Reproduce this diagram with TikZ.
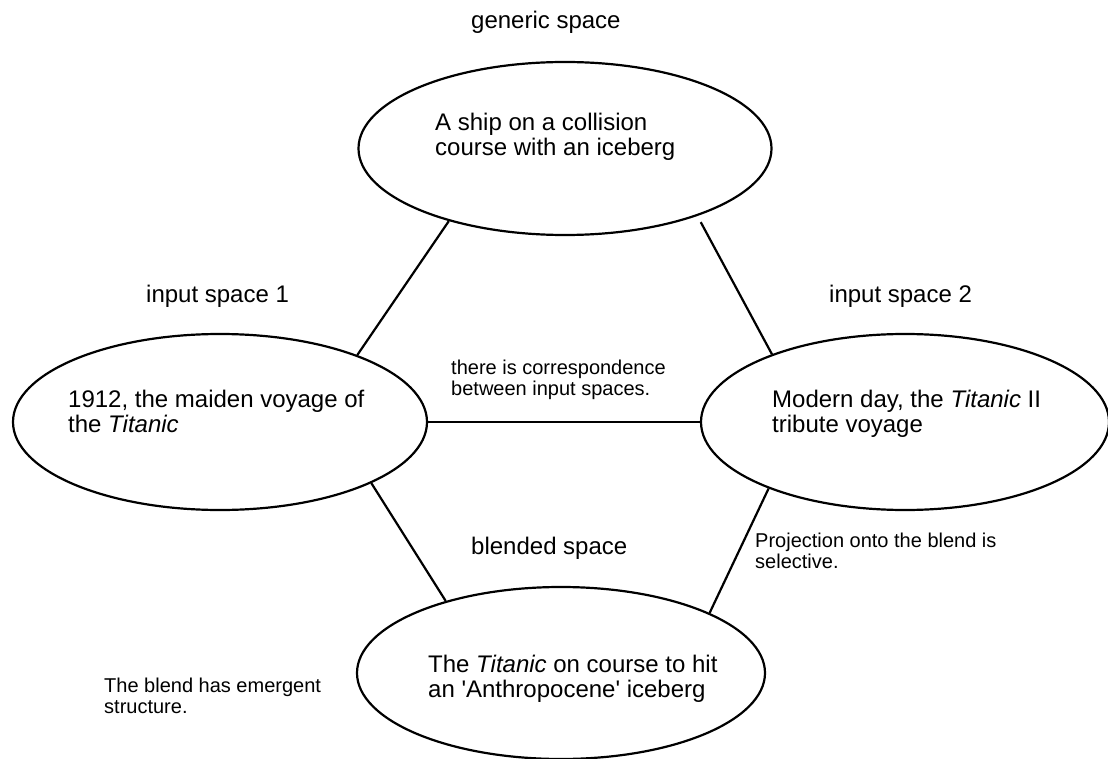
\documentclass[tikz,border=0pt]{standalone}
\usepackage{fontspec}
\setmainfont{Liberation Sans}
\usetikzlibrary{shapes.geometric}
\begin{document}
\begin{tikzpicture}[x=1pt,y=-1pt,
  space/.style={draw, ellipse, line width=2.2pt, inner sep=0pt},
  big/.style={font=\fontsize{24}{25}\selectfont, inner sep=0pt, align=left},
  small/.style={font=\fontsize{20}{21}\selectfont, inner sep=0pt, align=left},
  link/.style={line width=2.2pt}]
\fill[white] (0,0) rectangle (1108,759);
\useasboundingbox (0,0) rectangle (1108,759);
% spaces
\node[space, minimum width=413pt, minimum height=173pt] (gen) at (565,148.5) {};
\node[space, minimum width=414pt, minimum height=176pt] (in1) at (220,422) {};
\node[space, minimum width=408pt, minimum height=176pt] (in2) at (905,422) {};
\node[space, minimum width=408pt, minimum height=172pt] (bl) at (561,673) {};
% titles
\node[big, anchor=base west] (tgen) at (471,29) {generic space};
\node[big, anchor=base west] (tin1) at (146,302) {input space 1};
\node[big, anchor=base west] (tin2) at (829,302) {input space 2};
\node[big, anchor=base west] (tbl) at (471,554) {blended space};
% contents
\node[big, anchor=north west] (cgen) at (435,112.8) {A ship on a collision\\course with an iceberg};
\node[big, anchor=north west] (cin1) at (68,389.8) {1912, the maiden voyage of\\the \textit{Titanic}};
\node[big, anchor=north west] (cin2) at (772,389.8) {Modern day, the \textit{Titanic} II\\tribute voyage};
\node[big, anchor=north west] (cbl) at (428,654.8) {The \textit{Titanic} on course to hit\\an \textquotesingle Anthropocene\textquotesingle{} iceberg};
% notes
\node[small, anchor=north west] (ncorr) at (451,359.7) {there is correspondence\\between input spaces.};
\node[small, anchor=north west] (nproj) at (755,532.7) {Projection onto the blend is\\selective.};
\node[small, anchor=north west] (nemer) at (104,677.7) {The blend has emergent\\structure.};
% connectors
\draw[link] (gen.212) -- (in1.26);
\draw[link, shorten <=7pt] (gen.333.5) -- (in2.153);
\draw[link] (in1.0) -- (in2.180);
\draw[link] (in1.338.5) -- (bl.148);
\draw[link] (in2.206.5) -- (bl.22);
\end{tikzpicture}
\end{document}
